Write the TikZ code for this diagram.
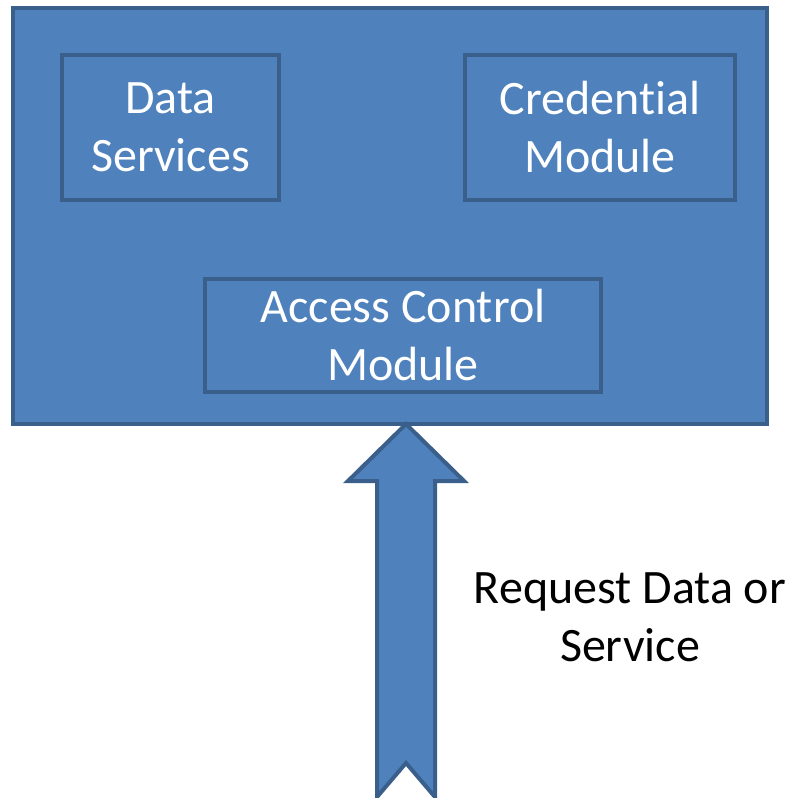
\documentclass[tikz,border=0pt]{standalone}
\usepackage{fontspec}
\setmainfont{Carlito}[Ligatures=NoCommon]
\definecolor{boxfill}{HTML}{4F81BD}
\definecolor{boxline}{HTML}{3A5F8B}
\begin{document}
\begin{tikzpicture}[x=0.75pt,y=-0.75pt,
  blk/.style={draw=boxline,fill=boxfill,line width=3pt,rectangle,inner sep=0pt},
  wtxt/.style={text=white,align=center,font=\fontsize{36}{43.5}\selectfont},
  btxt/.style={text=black,align=center,font=\fontsize{36}{43.5}\selectfont}]
\useasboundingbox (0,0) rectangle (790,798);
\node[blk,minimum width=754*0.75pt,minimum height=416*0.75pt] (outer) at (390,216) {};
\node[blk,minimum width=217*0.75pt,minimum height=145*0.75pt] (ds) at (170.5,127.5) {};
\node[wtxt] (dst) at (ds.center) {Data\\Services};
\node[blk,minimum width=270*0.75pt,minimum height=145*0.75pt] (cm) at (600,127.5) {};
\node[wtxt] (cmt) at (cm.center) {Credential\\Module};
\node[blk,minimum width=396*0.75pt,minimum height=113*0.75pt] (ac) at (403,335.5) {};
\node[wtxt] (act) at (ac.center) {Access Control\\Module};
\coordinate (tip) at (406,424);
\draw[draw=boxline,fill=boxfill,line width=3pt,line join=miter]
  (tip) -- (464,481) -- (435,481) -- (435,797) -- (406,763) -- (377,797)
  -- (377,481) -- (348,481) -- cycle;
\node[btxt] (req) at (630,617) {Request Data or\\Service};
\end{tikzpicture}
\end{document}
